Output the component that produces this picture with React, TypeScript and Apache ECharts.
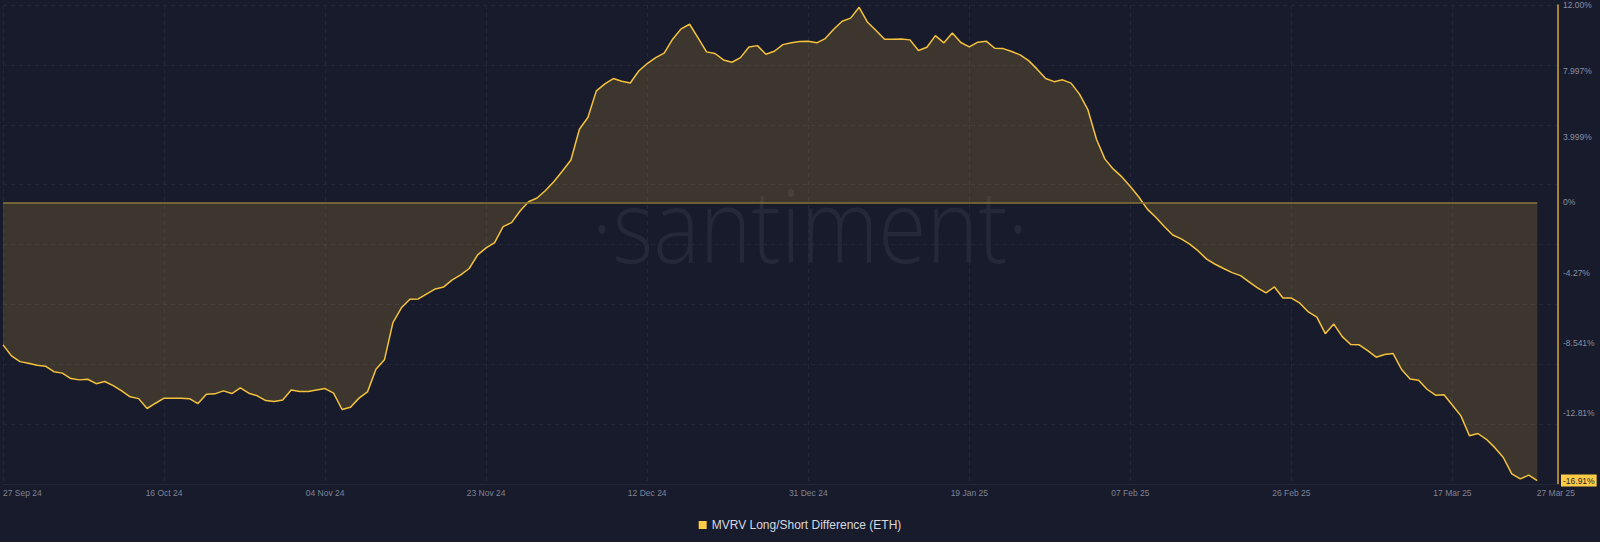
import React, { useEffect, useRef } from 'react';
import * as echarts from 'echarts';

// Daily MVRV Long/Short Difference (ETH), %, from 27 Sep 2024 (day 0) to 27 Mar 2025 (day 181)
const mvrvValues: number[] = [
  -8.66, -9.33, -9.68, -9.78, -9.90, -9.96, -10.29, -10.38, -10.71, -10.79,
  -10.75, -11.02, -10.89, -11.14, -11.46, -11.82, -11.93, -12.53, -12.21, -11.90,
  -11.90, -11.90, -11.93, -12.23, -11.66, -11.64, -11.46, -11.62, -11.28, -11.60,
  -11.76, -12.05, -12.11, -12.01, -11.40, -11.50, -11.50, -11.40, -11.32, -11.60,
  -12.59, -12.45, -11.90, -11.52, -10.14, -9.57, -7.31, -6.41, -5.89, -5.87,
  -5.56, -5.26, -5.14, -4.71, -4.41, -4.02, -3.19, -2.77, -2.44, -1.47,
  -1.23, -0.52, 0.04, 0.27, 0.72, 1.27, 1.91, 2.58, 4.45, 5.16,
  6.78, 7.20, 7.53, 7.37, 7.26, 7.99, 8.44, 8.80, 9.07, 9.92,
  10.55, 10.83, 10.00, 9.15, 9.05, 8.66, 8.52, 8.80, 9.45, 9.53,
  9.01, 9.19, 9.59, 9.71, 9.78, 9.80, 9.70, 9.96, 10.53, 11.01,
  11.20, 11.86, 10.95, 10.45, 9.92, 9.92, 9.94, 9.88, 9.23, 9.43,
  10.14, 9.70, 10.30, 9.72, 9.45, 9.74, 9.80, 9.37, 9.35, 9.17,
  8.97, 8.62, 8.10, 7.53, 7.34, 7.45, 7.25, 6.58, 5.62, 3.84,
  2.63, 2.02, 1.55, 0.96, 0.33, -0.41, -0.90, -1.47, -1.98, -2.22,
  -2.54, -2.95, -3.45, -3.76, -4.02, -4.27, -4.45, -4.83, -5.20, -5.50,
  -5.14, -5.81, -5.82, -6.13, -6.66, -6.98, -7.98, -7.40, -8.16, -8.64,
  -8.66, -9.01, -9.41, -9.25, -9.19, -10.16, -10.73, -10.81, -11.36, -11.72,
  -11.70, -12.33, -12.98, -14.19, -14.05, -14.40, -14.91, -15.51, -16.50, -16.81,
  -16.58, -16.91,
];
const dayIndex: number[] = mvrvValues.map((_, i) => i);

const xTickDays: number[] = [0, 19, 38, 57, 76, 95, 114, 133, 152, 171, 183.2];
const xTickLabels: string[] = [
  '27 Sep 24', '16 Oct 24', '04 Nov 24', '23 Nov 24', '12 Dec 24', '31 Dec 24',
  '19 Jan 25', '07 Feb 25', '26 Feb 25', '17 Mar 25', '27 Mar 25',
];
const yTickValues: number[] = [12, 7.997, 3.999, 0, -4.27, -8.541, -12.81, -16.91];
const yTickLabels: string[] = ['12.00%', '7.997%', '3.999%', '0%', '-4.27%', '-8.541%', '-12.81%', '-16.91%'];
const seriesName = 'MVRV Long/Short Difference (ETH)';
const watermark = '·santiment·';

const BG = '#181b2b';
const YELLOW = '#ffcb47';
const FONT = '"Liberation Sans", Arial, sans-serif';

function findIdx(arr: number[], v: number) {
  for (let i = 0; i < arr.length; i++) if (Math.abs(arr[i] - v) < 1e-6) return i;
  return -1;
}

export default function App() {
  const ref = useRef<HTMLDivElement>(null);
  useEffect(() => {
    if (!ref.current) return;
    const chart = echarts.init(ref.current, undefined, { renderer: 'svg' });
    const data = dayIndex.map((d, i) => [d, mvrvValues[i]]);
    const lastDay = dayIndex[dayIndex.length - 1];
    chart.setOption({
      animation: false,
      backgroundColor: BG,
      grid: { left: 0, top: 5, width: 1558, height: 479, containLabel: false },
      graphic: [
        {
          type: 'text',
          x: 810,
          y: 223,
          z: -10,
          silent: true,
          scaleX: 0.86,
          style: {
            text: watermark,
            fill: '#242838',
            fontSize: 102,
            fontWeight: 300,
            fontFamily: '"Open Sans", "Noto Sans", sans-serif',
            textAlign: 'center',
            textVerticalAlign: 'middle',
          },
        },
      ],
      legend: {
        data: [seriesName],
        left: 'center',
        top: 514,
        icon: 'rect',
        itemWidth: 8,
        itemHeight: 8,
        itemGap: 10,
        textStyle: { color: '#d6d8e0', fontSize: 12, fontFamily: FONT },
      },
      xAxis: {
        type: 'value',
        min: 0,
        max: 183.45,
        interval: 19,
        axisLine: { show: true, onZero: false, lineStyle: { color: '#23273a', width: 1 } },
        axisTick: { show: false },
        splitLine: { show: true, lineStyle: { color: '#232739', type: [4, 4], width: 1 } },
        axisLabel: {
          customValues: xTickDays,
          alignMinLabel: 'left',
          color: '#7f8397',
          fontSize: 8.5,
          fontFamily: FONT,
          margin: 4,
          formatter: (v: number) => {
            const i = findIdx(xTickDays, v);
            return i >= 0 ? xTickLabels[i] : '';
          },
        },
      },
      yAxis: [
        {
          type: 'value',
          position: 'right',
          min: -17.12,
          max: 12,
          axisLine: { show: true, onZero: false, lineStyle: { color: '#d9a62f', width: 1.5 } },
          axisTick: { show: false },
          splitLine: { show: false },
          axisLabel: {
            customValues: yTickValues,
            margin: 3,
            fontSize: 8.5,
            fontFamily: FONT,
            color: '#8a8ea2',
            formatter: (v: number) => {
              const i = findIdx(yTickValues, v);
              if (i < 0) return '';
              return i === yTickValues.length - 1 ? `{t|${yTickLabels[i]}}` : `{n|${yTickLabels[i]}}`;
            },
            rich: {
              n: { color: '#8a8ea2', fontSize: 8.5, padding: [0, 0, 0, 2], fontFamily: FONT },
              t: {
                color: '#181b2b',
                backgroundColor: YELLOW,
                fontSize: 8.5,
                padding: [2, 2, 1, 2],
                fontFamily: FONT,
              },
            },
          },
        },
        {
          type: 'value',
          position: 'left',
          min: 0,
          max: 8,
          interval: 1,
          axisLine: { show: false, onZero: false },
          axisTick: { show: false },
          axisLabel: { show: false },
          splitLine: { show: true, lineStyle: { color: '#232739', type: [4, 4], width: 1 } },
        },
      ],
      series: [
        {
          name: seriesName,
          type: 'line',
          yAxisIndex: 0,
          data,
          showSymbol: false,
          symbol: 'none',
          itemStyle: { color: YELLOW },
          lineStyle: { color: '#f4c23c', width: 1.5 },
          areaStyle: { color: 'rgba(255, 203, 71, 0.155)', opacity: 1 },
          markLine: {
            silent: true,
            symbol: 'none',
            label: { show: false },
            lineStyle: { color: '#8c7437', width: 1.5, type: 'solid' },
            data: [[{ coord: [dayIndex[0], 0] }, { coord: [lastDay, 0] }]],
          },
        },
      ],
    });
    return () => chart.dispose();
  }, []);
  return (
    <div
      ref={ref}
      style={{ position: 'fixed', left: 0, top: 0, width: 1600, height: 542, background: BG }}
    />
  );
}
